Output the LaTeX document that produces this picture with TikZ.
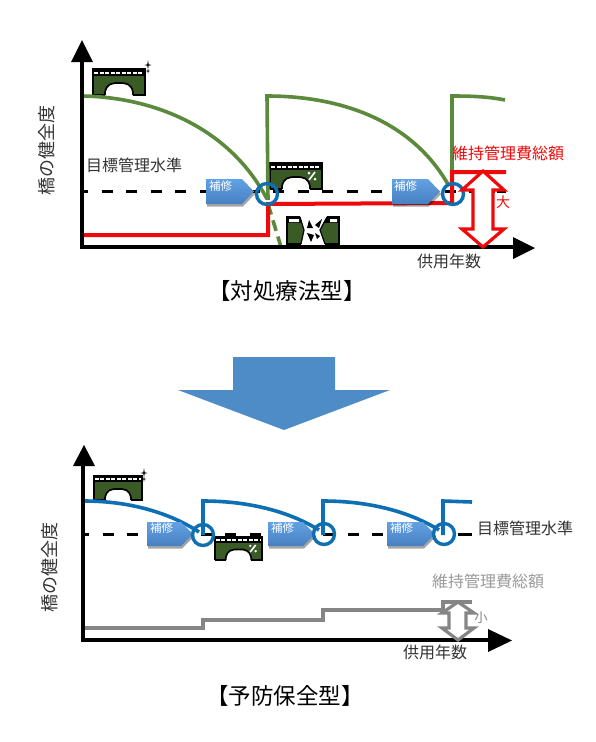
\documentclass[tikz,border=0pt]{standalone}
\usepackage{fontspec}
\setmainfont{Noto Sans CJK JP}
\usetikzlibrary{shadows}
\definecolor{brgreen}{HTML}{3A5A26}
\definecolor{curvegreen}{HTML}{5B8A3C}
\definecolor{curveblue}{HTML}{0F6FB5}
\definecolor{ringblue}{HTML}{0F6FB0}
\definecolor{bigblue}{HTML}{4E8CC8}
\definecolor{redc}{HTML}{EE0A0A}
\definecolor{grayc}{HTML}{858585}
\definecolor{graytext}{HTML}{9A9A9A}
\definecolor{textc}{HTML}{333333}
\definecolor{repT}{HTML}{62A2E2}
\definecolor{repB}{HTML}{4880C2}
\tikzset{
  x=1pt,y=-1pt,
  axisline/.style={line width=3.2pt,black},
  axishead/.style={fill=black,draw=none},
  targetline/.style={line width=3pt,black,dash pattern=on 11pt off 13.5pt,dash phase=5pt},
  targettail/.style={line width=3pt,black},
  gcurve/.style={line width=3.6pt,curvegreen},
  bcurve/.style={line width=3.6pt,curveblue},
  redline/.style={line width=4pt,redc},
  grayline/.style={line width=4pt,grayc},
  ring/.style={circle,draw=ringblue,line width=3.4pt,minimum size=21pt,inner sep=0pt,fill=none},
  repairbox/.style={top color=repT,bottom color=repB,
     drop shadow={shadow xshift=1pt,shadow yshift=-2.5pt,opacity=.35,fill=black}},
  repairtext/.style={white,font=\fontsize{11.5}{11.5}\selectfont,inner sep=0pt,anchor=west},
  jp/.style={textc,inner sep=0pt,font=\fontsize{16}{16}\selectfont},
  jpside/.style={textc,inner sep=0pt,rotate=90,font=\fontsize{18}{18}\selectfont},
  jpbig/.style={black,inner sep=0pt,font=\fontsize{22.5}{22.5}\selectfont},
  dblarrow/.style={fill=white,line join=miter},
}
% #1 x0, #2 y0, #3 x1, #4 y1, #5 text x, #6 text y
\newcommand{\repair}[6]{%
  \path[repairbox] (#1,#2) -- (#3-12,#2) -- (#3,{(#2+#4)/2}) -- (#3-12,#4) -- (#1,#4) -- cycle;
  \node[repairtext] at (#5,#6) {補修};}
% #1 x, #2 y, #3 width, #4 height, #5 extras drawn in unit box (0..52, 0..26)
\newcommand{\bridgeicon}[5]{%
  \begin{scope}[shift={(#1,#2)},xscale=#3/52,yscale=#4/26]
    \fill[brgreen] (0,0) rectangle (52,26);
    \fill[black] (0,0) rectangle (52,7);
    \draw[line width=2.2pt,white,dash pattern=on 4pt off 1.5pt] (1,3.6) -- (51,3.6);
    \fill[white] (12,26) -- (12,23) .. controls (14,15) and (18,14) .. (26,14) .. controls (34,14) and (38,15) .. (40,23) -- (40,26) -- cycle;
    \draw[line width=1.7pt,black] (12,26) -- (12,23) .. controls (14,15) and (18,14) .. (26,14) .. controls (34,14) and (38,15) .. (40,23) -- (40,26);
    \draw[line width=1.5pt,black] (0,26) -- (0,0) -- (52,0) -- (52,26) -- (40,26) (12,26) -- (0,26);
    #5
  \end{scope}}
\newcommand{\sparkle}[2]{%
  \fill[black] (#1,#2-5) -- (#1+.7,#2-.7) -- (#1+3.5,#2) -- (#1+.7,#2+.7) -- (#1,#2+4) -- (#1-.7,#2+.7) -- (#1-3.5,#2) -- (#1-.7,#2-.7) -- cycle;
  \fill[black] (#1,#2+3.5) -- (#1+.5,#2+5.5) -- (#1+2,#2+6) -- (#1+.5,#2+6.5) -- (#1,#2+8.5) -- (#1-.5,#2+6.5) -- (#1-2,#2+6) -- (#1-.5,#2+5.5) -- cycle;}
\newcommand{\crackmark}{%
  \draw[white,line width=1.6pt] (39,17) -- (45,9);
  \fill[white] (39,10) circle[radius=1.5pt] (45,16) circle[radius=1.5pt];}
\begin{document}
\begin{tikzpicture}
\useasboundingbox (0,0) rectangle (596,742);
\fill[white] (0,0) rectangle (596,742);

%% ---------- upper chart
\node[jp] (tgtA) at (134,165) {目標管理水準};
\node[jpside] (healthA) at (47,150) {橋の健全度};
\draw[targetline] (82,191) -- (495,191);
\draw[targettail] (497,191) -- (506,191);

\bridgeicon{93}{69}{52}{26}{}
\sparkle{148}{65}
\bridgeicon{270}{163}{52}{26}{\crackmark}

% broken bridge
\begin{scope}[shift={(287,217)}]
  \fill[brgreen] (0,0) rectangle (52,27);
  \fill[black] (0,0) rectangle (52,6);
  \fill[white] (2,2) rectangle (12,5) (43,2) rectangle (50,5);
  \fill[white] (13,-1) -- (40,-1) -- (33,13) -- (38,28) -- (14,28) -- (17,13) -- cycle;
  \draw[black,line width=1.4pt] (14,27) -- (0,27) -- (0,0) -- (13,0) (40,0) -- (52,0) -- (52,27) -- (38,27);
  \draw[black,line width=1.2pt] (13,0) -- (17,13) -- (14,27) (40,0) -- (33,13) -- (38,27);
  \fill[black] (22,3) -- (26,11) -- (20,11) -- cycle;
  \fill[black] (35,2) -- (32,11) -- (28,8) -- cycle;
  \fill[black] (20,16) -- (27,18) -- (24,25) -- cycle;
  \fill[black] (28,16) -- (33,19) -- (30,22) -- cycle;
\end{scope}

\draw[gcurve] (82,96) .. controls (150,97) and (228,125) .. (267,199);
\draw[gcurve] (268,200) -- (267,96) .. controls (340,96) and (412,120) .. (449,186);
\draw[gcurve] (452,190) -- (452,96) .. controls (475,96) and (490,97) .. (505,100);
\draw[gcurve,dash pattern=on 11pt off 6pt] (268,204) -- (281,247);

\draw[redline] (82,235) -- (268,235) -- (268,204) -- (452,203) -- (452,172) -- (506,172);

\draw[axisline] (82,62) -- (82,247) -- (514,247);
\fill[axishead] (82,40) -- (93,62) -- (71,62) -- cycle;
\fill[axishead] (535,248) -- (513,237) -- (513,259) -- cycle;

\repair{206}{179}{254}{204}{209}{186}
\repair{392}{179}{440}{204}{394}{186}
\node[ring] (ringA1) at (267,194) {};
\node[ring] (ringA2) at (453,194) {};

\draw[redc,line width=3.2pt,dblarrow] (483,171) -- (504,190) -- (493,190) -- (493,229) -- (504,229) -- (483,247) -- (462,229) -- (473,229) -- (473,190) -- (462,190) -- cycle;
\node[jp,redc] (costA) at (508,153) {維持管理費総額};
\node[jp,redc,font=\fontsize{14}{14}\selectfont] (bigA) at (503,202) {大};
\node[jp] (yearsA) at (449,261) {供用年数};
\node[jpbig] (titleA) at (287,291) {【対処療法型】};

%% ---------- big arrow
\fill[bigblue] (233,357) -- (335,357) -- (335,390) -- (390,390) -- (284,430) -- (178,390) -- (233,390) -- cycle;

%% ---------- lower chart
\node[jpside] (healthB) at (50,567) {橋の健全度};
\draw[targetline] (83,534) -- (445,534);
\draw[targettail] (458,534) -- (472,534);
\bridgeicon{94}{476}{48}{24}{}
\sparkle{144}{473}
\bridgeicon{215}{537}{47}{23}{\crackmark}

\draw[bcurve] (84,501) .. controls (130,501) and (170,513) .. (199,532);
\draw[bcurve] (203,535) -- (203,501) .. controls (250,501) and (290,512) .. (319,530);
\draw[bcurve] (323,535) -- (323,501) .. controls (370,501) and (410,512) .. (439,530);
\draw[bcurve] (443,535) -- (443,501) -- (472,502);

\draw[grayline] (83,628) -- (203,628) -- (203,620) -- (323,620) -- (323,610) -- (443,610) -- (443,602) -- (472,602);

\draw[axisline] (83,466) -- (83,640) -- (490,640);
\fill[axishead] (84,445) -- (95,466) -- (73,466) -- cycle;
\fill[axishead] (512,640.5) -- (488,629) -- (488,652) -- cycle;

\repair{147}{522}{193}{546}{150}{528.5}
\repair{268}{522}{315}{546}{271}{528.5}
\repair{387}{522}{435}{546}{390}{528.5}
\node[ring] (ringB1) at (203,535) {};
\node[ring] (ringB2) at (324,534) {};
\node[ring] (ringB3) at (444,534) {};

\draw[grayc,line width=3.2pt,dblarrow] (458,602) -- (474,613) -- (466,613) -- (466,628) -- (474,628) -- (458,640) -- (442,628) -- (449,628) -- (449,613) -- (442,613) -- cycle;

\node[jp] (tgtB) at (525,528) {目標管理水準};
\node[jp,graytext] (costB) at (488,581) {維持管理費総額};
\node[jp,grayc,font=\fontsize{13}{13}\selectfont] (smallB) at (481,618) {小};
\node[jp] (yearsB) at (435,652) {供用年数};
\node[jpbig] (titleB) at (285,696) {【予防保全型】};
\end{tikzpicture}
\end{document}
